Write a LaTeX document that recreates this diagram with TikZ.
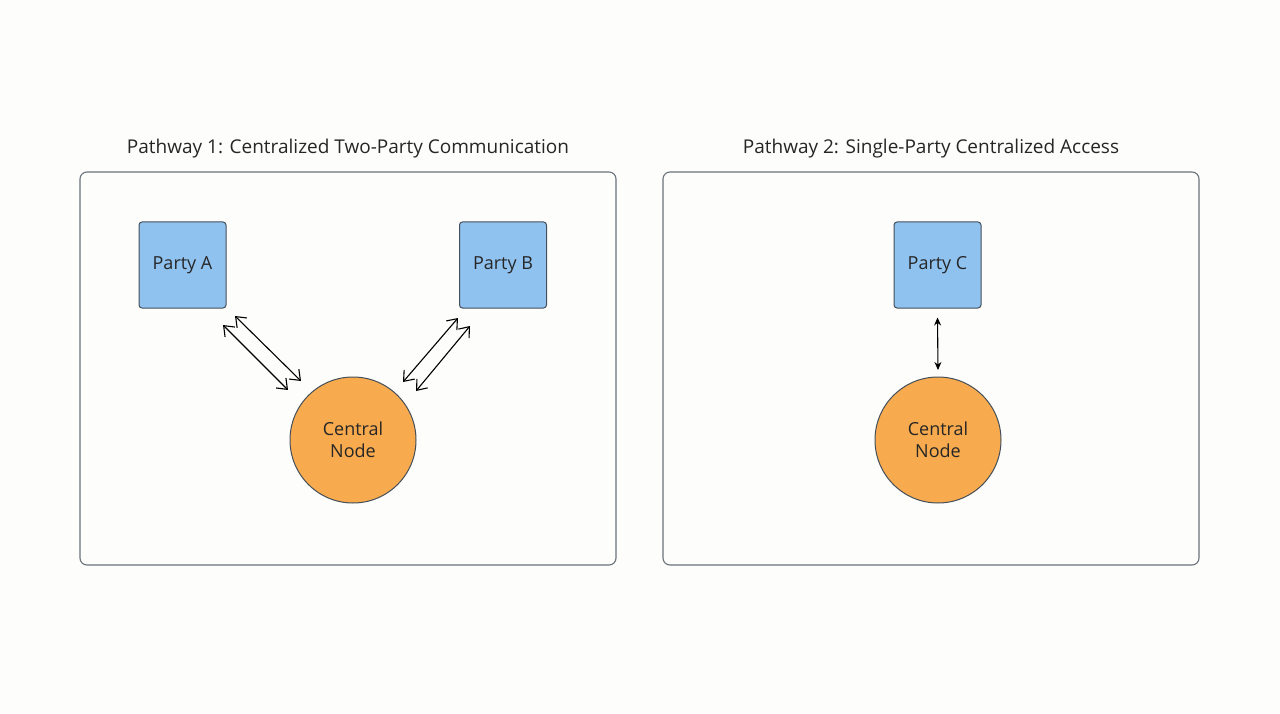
\documentclass[tikz,border=0pt]{standalone}
\usepackage{fontspec}
\setmainfont{Open Sans}
\usetikzlibrary{arrows.meta}
\definecolor{bg}{HTML}{FDFDFB}
\definecolor{blu}{HTML}{90C2F0}
\definecolor{org}{HTML}{F8AB4E}
\definecolor{edge}{HTML}{454F5A}
\begin{document}
\begin{tikzpicture}[x=1pt,y=-1pt,
  panel/.style={draw=edge!80,line width=1.1pt,rounded corners=7pt},
  party/.style={draw=edge,fill=blu,line width=1pt,rounded corners=3pt,minimum width=87pt,minimum height=86pt,font=\fontsize{18}{20}\selectfont,text=black!85},
  central/.style={circle,draw=edge,fill=org,line width=1pt,minimum size=126pt,align=center,font=\fontsize{18}{22}\selectfont,text=black!85},
  title/.style={font=\fontsize{19}{22}\selectfont,text=black!85},
  dbl/.style={{Straight Barb[length=9pt,width=14pt]}-{Straight Barb[length=9pt,width=14pt]},line width=1.1pt},
  sm/.style={{Stealth[length=8pt,width=7pt]}-{Stealth[length=8pt,width=7pt]},line width=1.1pt}]
\useasboundingbox[fill=bg] (0,0) rectangle (1280,714);
\node[title] (t1) at (348,149) {Pathway 1: Centralized Two-Party Communication};
\node[title] (t2) at (931,149) {Pathway 2: Single-Party Centralized Access};
\draw[panel] (80,172) rectangle (616,565);
\draw[panel] (663,172) rectangle (1199,565);
\node[party] (A) at (182.5,265) {Party A};
\node[party] (B) at (503,265) {Party B};
\node[party] (C) at (937.5,265) {Party C};
\node[central] (N1) at (353,440) {Central\\Node};
\node[central] (N2) at (938,440) {Central\\Node};
\coordinate (a1) at (223,325); \coordinate (n1) at (288,390);
\coordinate (a2) at (235,316); \coordinate (n2) at (301,381);
\coordinate (b1) at (458,318); \coordinate (m1) at (403,382);
\coordinate (b2) at (470,326); \coordinate (m2) at (416,391);
\draw[dbl] (a1) -- (n1);
\draw[dbl] (a2) -- (n2);
\draw[dbl] (b1) -- (m1);
\draw[dbl] (b2) -- (m2);
\draw[sm] (C.south) ++(0,9) coordinate (c1) -- (938,370) coordinate (c2);
\end{tikzpicture}
\end{document}
